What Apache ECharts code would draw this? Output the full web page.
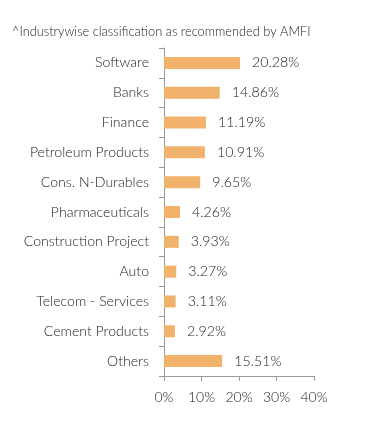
<!DOCTYPE html>
<html><head><meta charset="utf-8">
<script src="https://cdn.jsdelivr.net/npm/echarts@6/dist/echarts.min.js"></script>
<style>html,body{margin:0;padding:0;background:#fff}#c{width:391px;height:429px}</style>
</head><body><div id="c"></div>
<script>
const categories = ["Software","Banks","Finance","Petroleum Products","Cons. N-Durables","Pharmaceuticals","Construction Project","Auto","Telecom - Services","Cement Products","Others"];
const values = [20.28,14.86,11.19,10.91,9.65,4.26,3.93,3.27,3.11,2.92,15.51];
const xTicks = [0,10,20,30,40];
const title = "^Industrywise classification as recommended by AMFI";
const F = 'Lato';
const chart = echarts.init(document.getElementById('c'));
chart.setOption({
  animation:false,
  title:{text:title,left:7,top:20,textStyle:{fontFamily:F,fontSize:12.8,fontWeight:300,color:'#222'}},
  grid:{left:164,right:77,top:48,bottom:53},
  xAxis:{type:'value',min:xTicks[0],max:xTicks[xTicks.length-1],interval:10,
    axisLine:{show:true,lineStyle:{color:'#999'}},
    axisTick:{show:true,length:5,lineStyle:{color:'#999'}},
    splitLine:{show:false},
    axisLabel:{formatter:'{value}%',fontFamily:F,fontWeight:300,fontSize:14,color:'#222',margin:14}},
  yAxis:{type:'category',data:categories.slice().reverse(),
    axisLine:{show:true,lineStyle:{color:'#999'}},
    axisTick:{show:true,length:5,lineStyle:{color:'#999'}},
    axisLabel:{fontFamily:F,fontWeight:300,fontSize:14.1,color:'#222',margin:15}},
  series:[{type:'bar',data:values.slice().reverse(),barWidth:12,
    itemStyle:{color:'#F1B26C'},
    label:{show:true,position:'right',distance:12,formatter:p=>p.value.toFixed(2)+'%',fontFamily:F,fontWeight:300,fontSize:14.2,color:'#222'}}]
});
</script></body></html>
